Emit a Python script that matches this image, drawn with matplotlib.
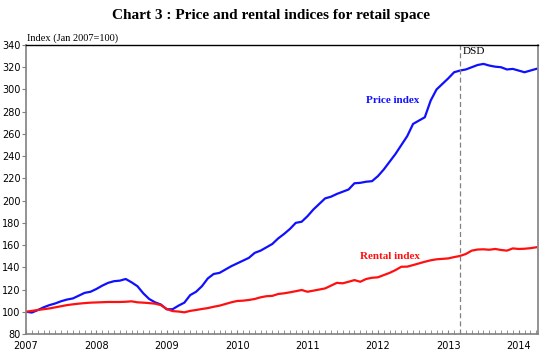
import matplotlib
matplotlib.use("Agg")
import matplotlib.pyplot as plt
from matplotlib.ticker import MultipleLocator, FixedLocator
import numpy as np

# Monthly data, Jan 2007 .. Apr 2014
price_index = [100, 99.3, 101.5, 104, 106, 107.5, 109.5, 111, 112, 114.5, 117, 118,
               120.5, 123.5, 126, 127.5, 128, 129.5, 126.5, 123, 116.6, 111.5, 108.5, 106.5,
               102.2, 102.3, 105.5, 108.2, 115, 118, 123, 130, 134, 135, 138, 141,
               143.5, 146, 148.5, 153, 155, 158, 161, 166, 170, 174.5, 180, 181,
               186, 192, 197, 202, 203.5, 206, 208, 210, 215.6, 216, 217, 217.5,
               222, 228, 235, 242, 250, 258, 269, 272, 275, 290, 300, 305,
               310, 315.5, 317, 318, 320, 322, 323, 321.5, 320.5, 320, 318, 318.5,
               317, 315.5, 317, 318.5]
rental_index = [100, 100.8, 101.6, 102.3, 103, 104, 105, 106, 106.7, 107.3, 107.8, 108.2,
                108.4, 108.6, 108.8, 108.8, 108.8, 109, 109.4, 108.5, 108.2, 107.8, 107.3, 106,
                102.5, 100.6, 100.2, 99.5, 100.8, 101.6, 102.5, 103.3, 104.5, 105.5, 107, 108.5,
                109.7, 110, 110.6, 111.5, 113, 114, 114.3, 116, 116.6, 117.5, 118.5, 119.6,
                118, 119, 120, 121, 123.5, 126, 125.6, 127, 128.5, 127, 129.5, 130.6,
                131, 133, 135, 137.5, 140.5, 140.6, 142, 143.5, 145, 146.3, 147.2, 147.6,
                148, 149.2, 150.2, 152, 155, 156, 156.2, 155.8, 156.5, 155.6, 155, 157,
                156.5, 156.7, 157.2, 158]
year_labels = ["2007", "2008", "2009", "2010", "2011", "2012", "2013", "2014"]
dsd_month = 74  # Mar 2013

months = np.arange(len(price_index))

fig = plt.figure(figsize=(5.54, 3.61), dpi=100)
ax = fig.add_axes([26/554, 1-334/361, (538-26)/554, (334-45)/361])

ax.plot(months, price_index, color="#1010ff", lw=1.6)
ax.plot(months, rental_index, color="#ff1010", lw=1.6)
ax.axvline(dsd_month, color="#808080", lw=0.9, ls=(0, (4, 2.5)))

ax.set_xlim(0, 87.3)
ax.set_ylim(80, 340)

ax.xaxis.set_major_locator(FixedLocator(np.arange(len(year_labels)) * 12))
ax.set_xticklabels(year_labels)
ax.xaxis.set_minor_locator(MultipleLocator(1))
ax.yaxis.set_major_locator(MultipleLocator(20))

ax.tick_params(axis="x", which="both", direction="in", length=3, color="#808080",
               labelsize=7, pad=5)
ax.tick_params(axis="y", which="major", direction="out", length=3, color="#808080",
               labelsize=7, pad=1)

for s in ["left", "right", "bottom"]:
    ax.spines[s].set_color("#808080")
    ax.spines[s].set_linewidth(1.2)
ax.spines["top"].set_color("black")
ax.spines["top"].set_linewidth(1.0)

serif = ["Liberation Serif", "DejaVu Serif"]
fig.text(271/554, 1-15/361, "Chart 3 : Price and rental indices for retail space",
         ha="center", va="center", fontsize=11, fontweight="bold", family=serif)
fig.text(27/554, 1-38/361, "Index (Jan 2007=100)", ha="left", va="center",
         fontsize=7.5, family=serif)

ax.text(62.6, 290, "Price index", color="#1010ff", fontweight="bold", ha="center",
        va="center", fontsize=8, family=serif)
ax.text(62, 149.5, "Rental index", color="#ff1010", fontweight="bold", ha="center",
        va="center", fontsize=8, family=serif)
ax.text(dsd_month + 0.4, 334, "DSD", ha="left", va="center", fontsize=8, family=serif)

fig.savefig("out.png", dpi=100)
